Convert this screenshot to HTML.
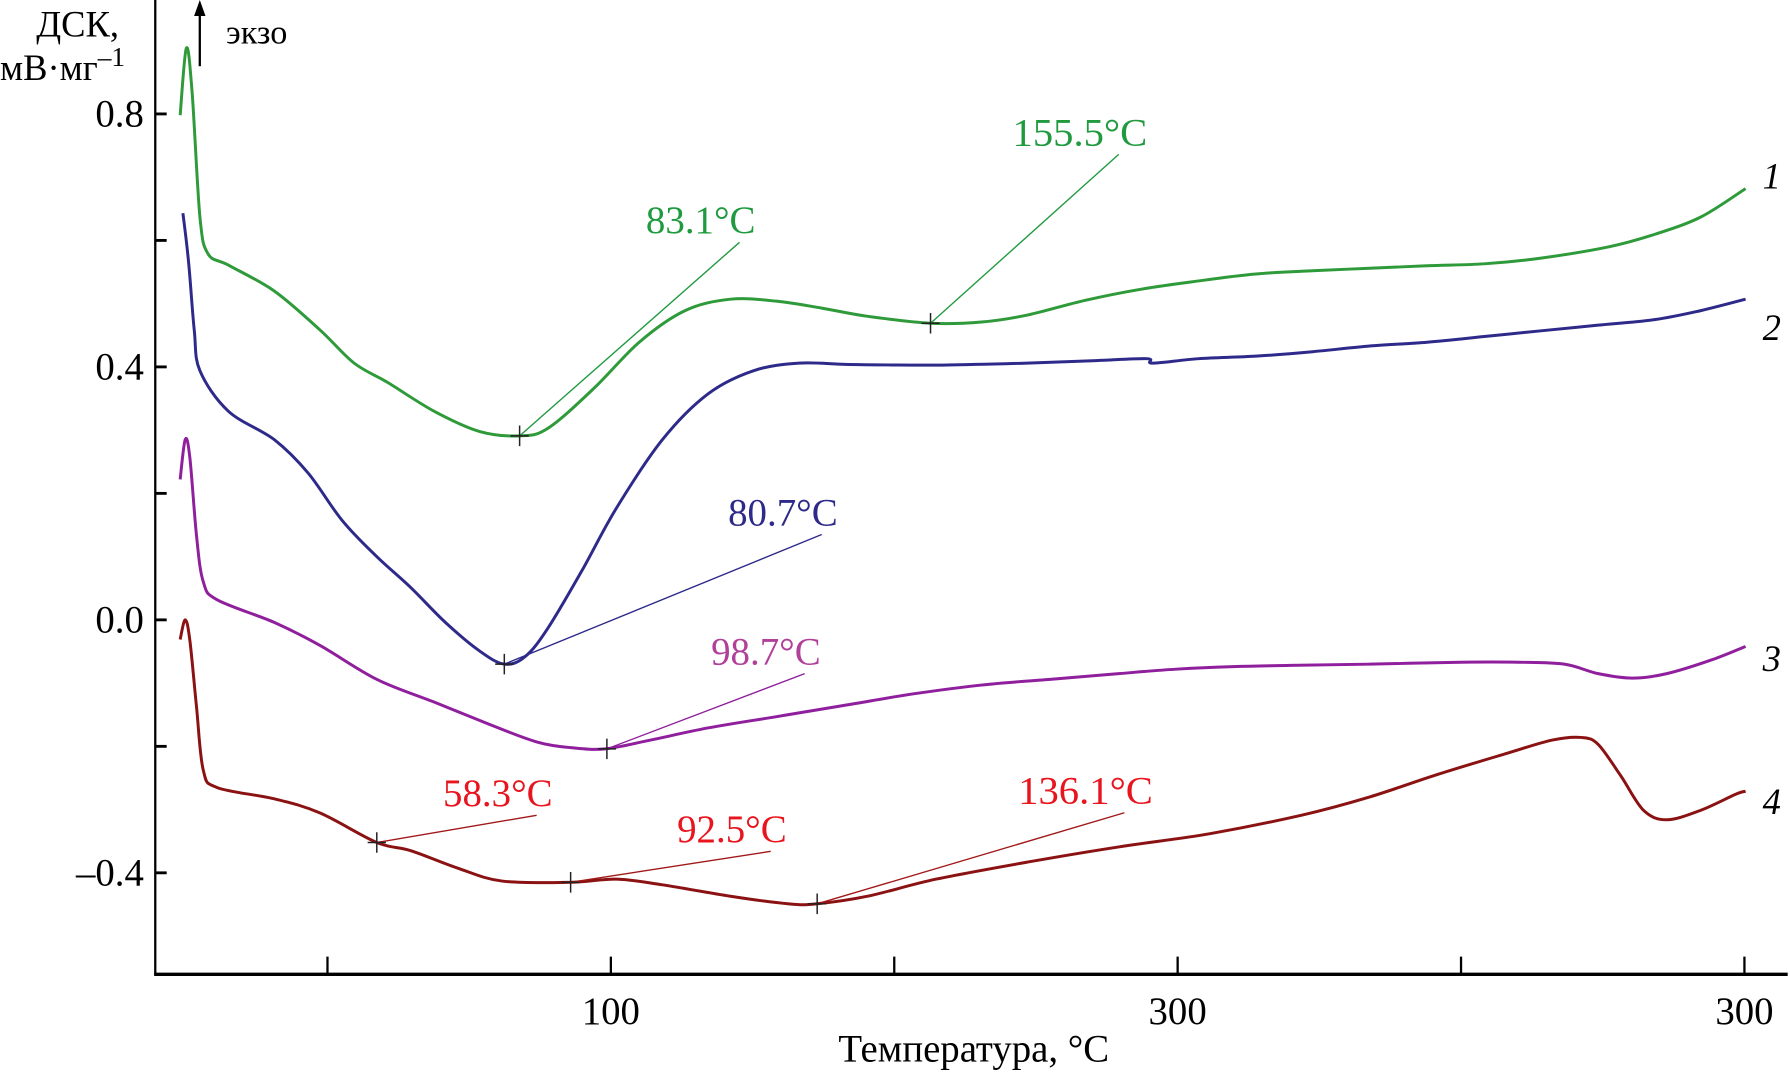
<!DOCTYPE html>
<html><head><meta charset="utf-8"><style>
html,body{margin:0;padding:0;background:#fff;}
svg{display:block;font-family:"Liberation Serif",serif;}
</style></head><body>
<svg id="chart" width="1790" height="1075" viewBox="0 0 1568 941.7" xmlns="http://www.w3.org/2000/svg">
<g id="axes"></g>
<g id="series"></g>
<g id="notes"></g>
</svg>
<script>
const xTicks=[50,100,150,200,250,300];
const xTickLabels=["","100","","300","","300"];
const yTicks=[0.8,0.6,0.4,0.2,0.0,-0.2,-0.4];
const yTickLabels=["0.8","","0.4","","0.0","","–0.4"];
const t1=[24.0,25.1,26.1,27.5,28.9,32.5,40.6,48.6,54.7,60.7,68.8,76.8,83.9,88.9,97.0,105.0,113.1,121.1,129.2,137.2,145.3,156.4,165.4,173.5,183.6,193.6,203.7,213.8,223.8,233.9,244.0,254.1,264.1,276.2,284.3,292.3,300.2];
const v1=[0.798,0.904,0.836,0.637,0.579,0.561,0.520,0.459,0.406,0.375,0.330,0.298,0.291,0.303,0.366,0.439,0.489,0.507,0.504,0.493,0.480,0.469,0.471,0.482,0.505,0.523,0.536,0.547,0.552,0.556,0.560,0.563,0.572,0.590,0.610,0.637,0.682];
const t2=[24.5,25.5,26.5,27.5,32.5,40.6,46.6,52.6,58.7,64.7,70.8,76.8,81.2,84.9,88.9,94.9,101.0,109.1,117.1,125.2,133.2,141.3,149.3,159.4,173.5,185.6,194.6,195.6,203.7,213.8,223.8,233.9,244.0,254.1,264.1,274.2,284.3,292.3,300.2];
const v2=[0.643,0.565,0.457,0.394,0.330,0.285,0.232,0.157,0.100,0.051,-0.004,-0.049,-0.070,-0.058,-0.013,0.078,0.177,0.285,0.357,0.394,0.406,0.404,0.403,0.403,0.406,0.410,0.413,0.406,0.413,0.417,0.424,0.433,0.439,0.448,0.457,0.466,0.475,0.489,0.507];
const t3=[24.0,24.9,25.7,26.9,28.1,30.5,40.6,48.6,58.7,68.8,78.8,86.9,92.9,99.0,107.0,117.1,129.2,141.3,153.4,165.4,177.5,189.6,199.7,209.8,219.8,233.9,250.0,260.1,268.2,274.2,280.2,286.3,294.3,300.2];
const v3=[0.222,0.285,0.258,0.132,0.060,0.032,-0.004,-0.040,-0.094,-0.130,-0.166,-0.193,-0.202,-0.204,-0.190,-0.171,-0.153,-0.135,-0.117,-0.103,-0.094,-0.085,-0.078,-0.074,-0.072,-0.070,-0.067,-0.067,-0.070,-0.085,-0.092,-0.085,-0.063,-0.042];
const t4=[24.0,24.9,25.7,26.9,28.1,30.5,40.6,48.6,58.7,64.7,72.8,80.8,92.9,101.0,109.1,121.1,131.2,136.4,145.3,157.4,173.5,189.6,205.7,221.8,233.9,246.0,258.1,266.1,271.2,274.2,278.2,282.2,286.3,292.3,298.4,300.2];
const v4=[-0.031,0,-0.031,-0.139,-0.238,-0.265,-0.283,-0.305,-0.352,-0.365,-0.392,-0.413,-0.415,-0.410,-0.419,-0.437,-0.449,-0.449,-0.437,-0.410,-0.383,-0.359,-0.338,-0.309,-0.280,-0.244,-0.211,-0.190,-0.186,-0.197,-0.247,-0.301,-0.316,-0.301,-0.276,-0.271];
const seriesLabels=["1","2","3","4"];
const seriesColors=["#2e9a3a","#2e2a8a","#8f1f9c","#8b1212"];
const labelY=[165,298,588,713];
const noteText=["83.1°C","155.5°C","80.7°C","98.7°C","58.3°C","92.5°C","136.1°C"];
const noteT=[83.9,156.4,81.2,99.3,58.7,92.9,136.4];
const noteV=[0.291,0.469,-0.070,-0.204,-0.352,-0.415,-0.449];
const noteLT=[122.7,189.6,137.2,134.2,86.9,128.2,190.6];
const noteLV=[0.597,0.736,0.135,-0.085,-0.309,-0.366,-0.305];
const noteColor=["#1f9a3f","#1f9a3f","#2e2a8a","#b0409a","#e8141e","#e8141e","#e8141e"];
const noteLine=["#1f9a3f","#1f9a3f","#2e2a8a","#8f1f9c","#a01818","#a01818","#a01818"];

const NS="http://www.w3.org/2000/svg";
const X=t=>38.6+t*4.965;
const Y=v=>543-v*554;
function mk(tag,attrs,parent){const e=document.createElementNS(NS,tag);for(const k in attrs)e.setAttribute(k,attrs[k]);parent.appendChild(e);return e;}
const axes=document.getElementById('axes'),series=document.getElementById('series'),notes=document.getElementById('notes');

let e=mk('line',{x1:136,y1:0,x2:136,y2:854,stroke:'#000','stroke-width':2},axes);


e=mk('line',{x1:135,y1:853.5,x2:1566,y2:853.5,stroke:'#000','stroke-width':3},axes);


xTicks.forEach((t,i)=>{
  let l=mk('line',{x1:X(t),y1:838,x2:X(t),y2:853,stroke:'#000','stroke-width':2},axes);
  
  
  if(xTickLabels[i]){let tx=mk('text',{x:X(t),y:897,'font-size':34,'text-anchor':'middle'},axes);tx.textContent=xTickLabels[i];
  
  }
});
yTicks.forEach((v,i)=>{
  let l=mk('line',{x1:136,y1:Y(v),x2:146,y2:Y(v),stroke:'#000','stroke-width':2.5},axes);
  
  
  if(yTickLabels[i]){let tx=mk('text',{x:126,y:Y(v)+11,'font-size':34,'text-anchor':'end'},axes);tx.textContent=yTickLabels[i];
  
  }
});
let xt=mk('text',{x:853,y:930,'font-size':34,'text-anchor':'middle'},axes);xt.textContent='Температура, °С';


let y1=mk('text',{x:68,y:32,'font-size':32,'text-anchor':'middle'},axes);y1.textContent='ДСК,';


let y2=mk('text',{x:0,y:70,'font-size':32},axes);y2.innerHTML='мВ·мг<tspan dy="-12" font-size="24">–1</tspan>';


let ar=mk('line',{x1:175,y1:58,x2:175,y2:10,stroke:'#000','stroke-width':2},axes);


let ah=mk('polygon',{points:'175,0 170,14 180,14',fill:'#000'},axes);


let ex=mk('text',{x:198,y:38,'font-size':30},axes);ex.textContent='экзо';



function smooth(pts){
  let d='M'+pts[0][0].toFixed(1)+','+pts[0][1].toFixed(1);
  for(let i=0;i<pts.length-1;i++){
    const p0=pts[Math.max(0,i-1)],p1=pts[i],p2=pts[i+1],p3=pts[Math.min(pts.length-1,i+2)];
    const c1x=p1[0]+(p2[0]-p0[0])/6,c1y=p1[1]+(p2[1]-p0[1])/6;
    const c2x=p2[0]-(p3[0]-p1[0])/6,c2y=p2[1]-(p3[1]-p1[1])/6;
    d+=`C${c1x.toFixed(1)},${c1y.toFixed(1)} ${c2x.toFixed(1)},${c2y.toFixed(1)} ${p2[0].toFixed(1)},${p2[1].toFixed(1)}`;
  }
  return d;
}
[[t1,v1],[t2,v2],[t3,v3],[t4,v4]].forEach((s,k)=>{
  const pts=s[0].map((t,i)=>[X(t),Y(s[1][i])]);
  let p=mk('path',{d:smooth(pts),fill:'none',stroke:seriesColors[k],'stroke-width':2.6,'stroke-linejoin':'round'},series);
  
  
  let lb=mk('text',{x:1552,y:labelY[k],'font-size':32,'font-style':'italic','text-anchor':'middle'},series);
  lb.textContent=seriesLabels[k];
  
  
});

noteText.forEach((s,i)=>{
  const mx=X(noteT[i]),my=Y(noteV[i]),lx=X(noteLT[i]),ly=Y(noteLV[i]);
  let l=mk('line',{x1:mx,y1:my,x2:lx,y2:ly,stroke:noteLine[i],'stroke-width':1.2},notes);
  
  
  let m=mk('path',{d:`M${mx-8},${my}H${mx+8}M${mx},${my-9}V${my+9}`,stroke:'#222','stroke-width':1.3},notes);
  
  
  let tx=mk('text',{x:lx-34,y:ly-8,'font-size':34,fill:noteColor[i],'text-anchor':'middle','textLength':96,'lengthAdjust':'spacingAndGlyphs'},notes);
  if(s.length>6)tx.setAttribute('textLength',118);
  tx.textContent=s;
  
  
});
</script>
</body></html>
